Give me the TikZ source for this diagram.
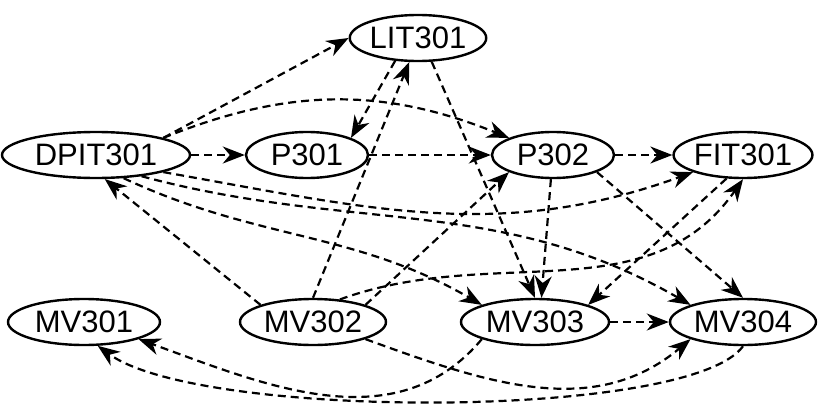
\documentclass[tikz,border=0pt]{standalone}
\usepackage{fontspec}
\setmainfont{Liberation Sans}
\usetikzlibrary{arrows.meta,shapes.geometric}
\begin{document}
\begin{tikzpicture}[x=1pt,y=-1pt,
        state/.style={ellipse,draw,line width=2.4pt,inner sep=0pt,minimum height=46pt,font=\fontsize{31}{32}\selectfont},
        dep/.style={line width=2.2pt,dash pattern=on 8pt off 5pt,-{Stealth[length=22pt,width=17pt,inset=7pt]}}]
        \useasboundingbox (0,0) rectangle (830,415);
        % sensors and actuators
        \node[state,minimum width=134pt] (lit)   at (418,38)  {LIT301};
        \node[state,minimum width=188pt] (dpit)  at (96,155)  {DPIT301};
        \node[state,minimum width=122pt] (pa)    at (307,155) {P301};
        \node[state,minimum width=122pt] (pb)    at (553,155) {P302};
        \node[state,minimum width=130pt] (fit)   at (743,155) {FIT301};
        \node[state,minimum width=152pt] (mva)   at (84,322)  {MV301};
        \node[state,minimum width=146pt] (mvb)   at (313,322) {MV302};
        \node[state,minimum width=148pt] (mvc)   at (535,322) {MV303};
        \node[state,minimum width=146pt] (mvd)   at (743,322) {MV304};
        % dependencies
        \draw[dep] (dpit.north east) -- (lit.west);
        \draw[dep] (dpit.north east) to[bend left=22] (pb.north west);
        \draw[dep] (dpit) -- (pa);
        \draw[dep] (dpit.south east) to[out=-10,in=200] (fit.south west);
        \draw[dep] (dpit.-25) to[out=-15,in=150] (mvd.north west);
        \draw[dep] (dpit.-40) to[out=-25,in=150] (mvc.north west);
        \draw[dep] (mvb.north west) -- (dpit.-70);
        \draw[dep] (lit.225) -- (pa.north east);
        \draw[dep] (mvb.north) -- (lit.250);
        \draw[dep] (lit.300) -- (mvc.north);
        \draw[dep] (pa) -- (pb);
        \draw[dep] (pb) -- (fit);
        \draw[dep] (pb.-95) -- (mvc.75);
        \draw[dep] (pb.south east) -- (mvd.north);
        \draw[dep] (mvb.north east) -- (pb.south west);
        \draw[dep] (mvb.40) to[out=20,in=235] (fit.south);
        \draw[dep] (fit.235) -- (mvc.north east);
        \draw[dep] (mvc) -- (mvd);
        \draw[dep] (mvc.south west) to[out=230,in=-20] (mva.south east);
        \draw[dep] (mvb.south east) to[out=-20,in=220] (mvd.south west);
        \draw[dep] (mvd.south) .. controls (690,420) and (200,420) .. (mva.-60);
\end{tikzpicture}
\end{document}
